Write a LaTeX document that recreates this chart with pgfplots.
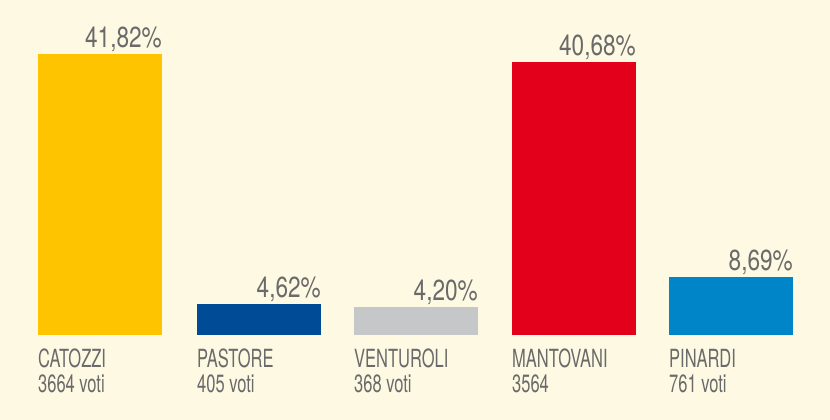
\documentclass[border=0pt]{standalone}
\usepackage{pgfplots}
\pgfplotsset{compat=1.18}
\usepackage{fontspec}
\setmainfont{TeX Gyre Heros}[FakeStretch=0.78]
\newfontfamily\labfont{TeX Gyre Heros}[FakeStretch=0.66]
\definecolor{bg}{HTML}{FDF9E3}
\definecolor{txt}{HTML}{6A6A6A}
\definecolor{cgiallo}{HTML}{FFC400}
\definecolor{cblu}{HTML}{004B96}
\definecolor{cgrigio}{HTML}{C6C7C9}
\definecolor{crosso}{HTML}{E2001A}
\definecolor{cazzurro}{HTML}{0085C8}
\begin{document}
\begin{tikzpicture}
\begin{axis}[
    width=830pt, height=420pt, scale only axis,
    xmin=0, xmax=830, ymin=-12.65, ymax=49.85,
    axis line style={draw=none}, ticks=none,
    axis background/.style={fill=bg},
    ybar, bar width=124pt, bar shift=0pt,
    clip=false,
    point meta=explicit symbolic,
    nodes near coords,
]
% percentuali
\pgfplotsset{perc/.style={draw=none, fill=#1,
    nodes near coords style={anchor=base east, xshift=62pt, yshift=6pt,
      inner sep=0pt, text=txt, font=\fontsize{29}{29}\selectfont}}}
\addplot[perc=cgiallo]  coordinates {(100,41.82) [41,82\%]};
\addplot[perc=cblu]     coordinates {(259,4.62)  [4,62\%]};
\addplot[perc=cgrigio]  coordinates {(416,4.20)  [4,20\%]};
\addplot[perc=crosso]   coordinates {(574,40.68) [40,68\%]};
\addplot[perc=cazzurro] coordinates {(731,8.69)  [8,69\%]};
% nomi e voti
\pgfplotsset{lab/.style={draw=none, fill=none,
    nodes near coords style={anchor=base west, xshift=-62pt, yshift=#1,
      inner sep=0pt, text=txt, font=\labfont\fontsize{25}{25}\selectfont}}}
\addplot[lab=-33pt] coordinates {
    (100,0) [CATOZZI] (259,0) [PASTORE] (416,0) [VENTUROLI]
    (574,0) [MANTOVANI] (731,0) [PINARDI]};
\addplot[lab=-58pt] coordinates {
    (100,0) [3664 voti] (259,0) [405 voti] (416,0) [368 voti]
    (574,0) [3564] (731,0) [761 voti]};
\end{axis}
\end{tikzpicture}
\end{document}
